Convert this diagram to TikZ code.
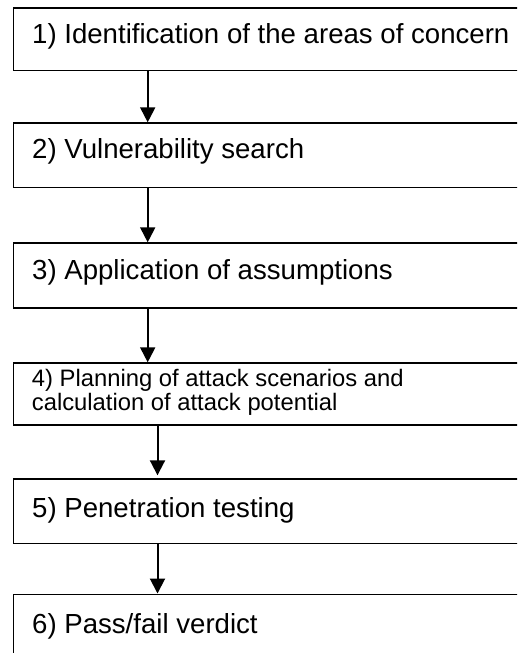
\documentclass[tikz,border=0pt]{standalone}
\usepackage{fontspec}
\setmainfont{Liberation Sans}
\usetikzlibrary{arrows.meta,calc}
\tikzset{
  stepbox/.style={draw=black, line width=1.2pt, fill=white, rectangle, inner sep=0pt,
    anchor=north west, minimum width=530pt, minimum height=62.4pt},
  biglbl/.style={anchor=base west, inner sep=0pt, font=\fontsize{27.6pt}{32pt}\selectfont},
  smalllbl/.style={anchor=base west, inner sep=0pt, align=left, font=\fontsize{23.8pt}{24pt}\selectfont},
  flowarrow/.style={line width=2pt, -{Triangle[width=15pt,length=15pt]}}
}
\begin{document}
\begin{tikzpicture}[x=1pt,y=-1pt]
\useasboundingbox (0,0) rectangle (517,653);
\clip (0,0) rectangle (517,653);
\fill[white] (0,0) rectangle (517,653);
% boxes
\node[stepbox] (b1) at (13,7.3) {};
\node[stepbox, minimum height=64.2pt] (b2) at (13,122.3) {};
\node[stepbox, minimum height=65pt] (b3) at (13,242.3) {};
\node[stepbox, minimum height=62pt] (b4) at (13,362.3) {};
\node[stepbox, minimum height=64.4pt] (b5) at (13,478.3) {};
\node[stepbox, minimum height=80pt] (b6) at (13,593.5) {};
% labels
\node[biglbl] (t1) at (32,43) {1) Identification of the areas of concern};
\node[biglbl] (t2) at (32,158.5) {2) Vulnerability search};
\node[biglbl] (t3) at (32,279) {3) Application of assumptions};
\node[smalllbl] (t4) at (31.7,410) {4) Planning of attack scenarios and\\calculation of attack potential};
\node[biglbl] (t5) at (32,517) {5) Penetration testing};
\node[biglbl] (t6) at (32,633) {6) Pass/fail verdict};
% arrows
\draw[flowarrow] ($(b1.south west)+(134.7,0)$) -- ($(b2.north west)+(134.7,0)$);
\draw[flowarrow] ($(b2.south west)+(134.7,0)$) -- ($(b3.north west)+(134.7,0)$);
\draw[flowarrow] ($(b3.south west)+(134.7,0)$) -- ($(b4.north west)+(134.7,0)$);
\draw[flowarrow] ($(b4.south west)+(144.5,0)$) -- ($(b5.north west)+(144.5,-3)$);
\draw[flowarrow] ($(b5.south west)+(144.5,0)$) -- ($(b6.north west)+(144.5,0)$);
\end{tikzpicture}
\end{document}
